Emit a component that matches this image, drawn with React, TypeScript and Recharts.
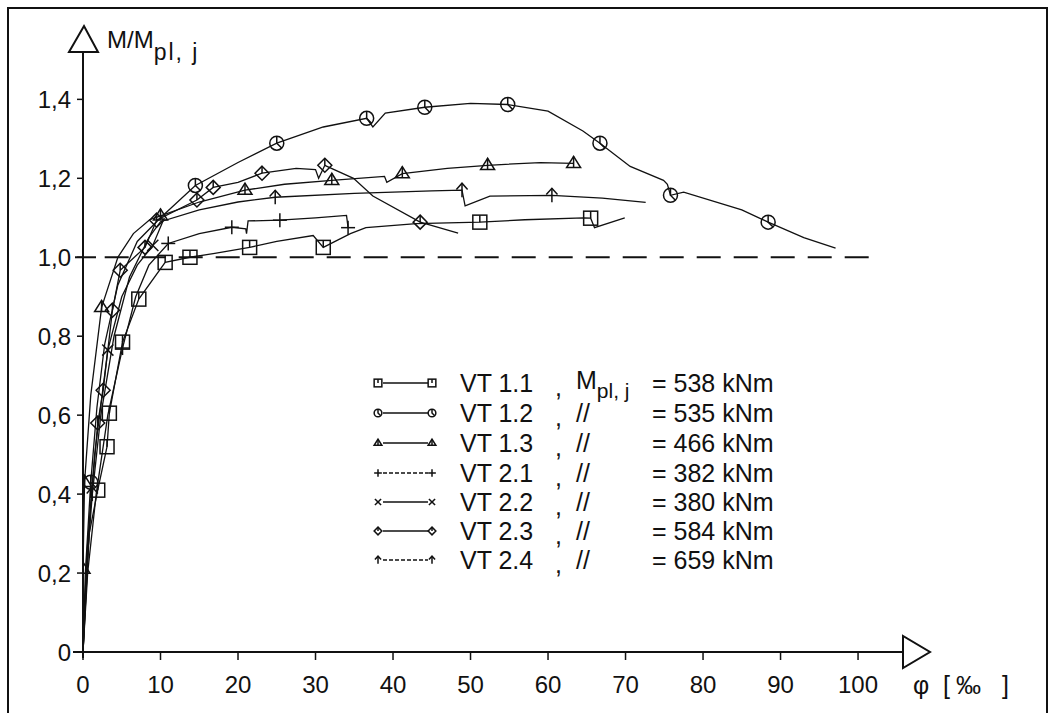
import React from "react";
import { LineChart, Line, XAxis, YAxis, ReferenceLine } from "recharts";

type Pt = { x: number; y: number; m?: boolean };

// phi [‰] vs M/Mpl,j; m = point carries a marker
const VT11: Pt[] = [
  { x: 0, y: 0 }, { x: 0.8, y: 0.3 }, { x: 1.9, y: 0.41, m: true }, { x: 3.1, y: 0.52, m: true },
  { x: 3.4, y: 0.605, m: true }, { x: 5.1, y: 0.785, m: true }, { x: 7.2, y: 0.894, m: true },
  { x: 10.6, y: 0.987, m: true }, { x: 13.8, y: 1.0, m: true }, { x: 17, y: 1.01 },
  { x: 21.5, y: 1.025, m: true }, { x: 25, y: 1.04 }, { x: 29.7, y: 1.055 },
  { x: 31, y: 1.025, m: true }, { x: 34.5, y: 1.06 }, { x: 36.5, y: 1.075 }, { x: 43, y: 1.085 },
  { x: 51.2, y: 1.089, m: true }, { x: 57, y: 1.095 }, { x: 64.6, y: 1.1 },
  { x: 65.5, y: 1.099, m: true }, { x: 66, y: 1.075 }, { x: 69.9, y: 1.1 },
];

const VT12: Pt[] = [
  { x: 0, y: 0 }, { x: 0.3, y: 0.2 }, { x: 1.0, y: 0.43, m: true }, { x: 1.8, y: 0.62 },
  { x: 2.8, y: 0.78 }, { x: 4.5, y: 0.93 }, { x: 7, y: 1.04 }, { x: 10, y: 1.1 },
  { x: 14.5, y: 1.182, m: true }, { x: 20, y: 1.24 }, { x: 25, y: 1.289, m: true },
  { x: 31, y: 1.33 }, { x: 36.6, y: 1.352, m: true }, { x: 37.4, y: 1.33 }, { x: 39, y: 1.365 },
  { x: 44.1, y: 1.38, m: true }, { x: 50, y: 1.39 }, { x: 54.8, y: 1.387, m: true },
  { x: 60, y: 1.37 }, { x: 64.5, y: 1.32 }, { x: 66.7, y: 1.289, m: true }, { x: 70.6, y: 1.23 },
  { x: 74.9, y: 1.195 }, { x: 75.4, y: 1.185 }, { x: 75.8, y: 1.157, m: true },
  { x: 77.5, y: 1.165 }, { x: 85, y: 1.12 }, { x: 88.4, y: 1.089, m: true }, { x: 93, y: 1.05 },
  { x: 97.1, y: 1.023 },
];

const VT13: Pt[] = [
  { x: 0, y: 0 }, { x: 0, y: 0.21, m: true }, { x: 0.2, y: 0.43, m: true }, { x: 1.0, y: 0.65 },
  { x: 2.4, y: 0.873, m: true }, { x: 4.5, y: 1.0 }, { x: 6.5, y: 1.06 }, { x: 8.6, y: 1.095 },
  { x: 10, y: 1.105, m: true }, { x: 15, y: 1.14 }, { x: 20.9, y: 1.17, m: true },
  { x: 26, y: 1.185 }, { x: 32.1, y: 1.195, m: true }, { x: 38.9, y: 1.205 },
  { x: 39.2, y: 1.19 }, { x: 41.2, y: 1.212, m: true }, { x: 47, y: 1.225 },
  { x: 52.2, y: 1.233, m: true }, { x: 59, y: 1.24 }, { x: 63.3, y: 1.238, m: true },
];

const VT21: Pt[] = [
  { x: 0, y: 0 }, { x: 0.6, y: 0.2 }, { x: 1.7, y: 0.4 }, { x: 3.2, y: 0.6 },
  { x: 5.1, y: 0.77, m: true }, { x: 6.8, y: 0.9 }, { x: 8.5, y: 0.98 },
  { x: 11, y: 1.035, m: true }, { x: 15, y: 1.06 }, { x: 19.2, y: 1.076, m: true },
  { x: 21, y: 1.072 }, { x: 21.1, y: 1.06 }, { x: 21.3, y: 1.092 },
  { x: 25.4, y: 1.094, m: true }, { x: 30, y: 1.1 }, { x: 34, y: 1.106 },
  { x: 34.2, y: 1.075, m: true },
];

const VT22: Pt[] = [
  { x: 0, y: 0 }, { x: 0.5, y: 0.25 }, { x: 1.5, y: 0.5 }, { x: 3.2, y: 0.765, m: true },
  { x: 5, y: 0.9 }, { x: 7, y: 0.98 }, { x: 9, y: 1.03, m: true }, { x: 10.5, y: 1.1 },
];

const VT23: Pt[] = [
  { x: 0, y: 0 }, { x: 0.9, y: 0.35 }, { x: 1.9, y: 0.58, m: true }, { x: 2.6, y: 0.663, m: true },
  { x: 3.8, y: 0.866, m: true }, { x: 4.8, y: 0.967, m: true }, { x: 8, y: 1.025, m: true },
  { x: 9.5, y: 1.094, m: true }, { x: 14.7, y: 1.145, m: true }, { x: 16.8, y: 1.177, m: true },
  { x: 20, y: 1.19 }, { x: 23.1, y: 1.213, m: true }, { x: 27.5, y: 1.225 }, { x: 30, y: 1.222 },
  { x: 30.4, y: 1.2 }, { x: 31.2, y: 1.233, m: true }, { x: 34.9, y: 1.2 }, { x: 37.4, y: 1.155 },
  { x: 43.5, y: 1.089, m: true }, { x: 48.4, y: 1.061 },
];

const VT24: Pt[] = [
  { x: 0, y: 0 }, { x: 0.5, y: 0.22 }, { x: 1.2, y: 0.4, m: true }, { x: 2.3, y: 0.6 },
  { x: 4, y: 0.8 }, { x: 6, y: 0.95 }, { x: 8.5, y: 1.05 }, { x: 10, y: 1.09 }, { x: 15, y: 1.12 },
  { x: 20, y: 1.14 }, { x: 24.8, y: 1.152, m: true }, { x: 35, y: 1.162 }, { x: 45, y: 1.168 },
  { x: 48.9, y: 1.17, m: true }, { x: 49.3, y: 1.13 }, { x: 52.5, y: 1.155 },
  { x: 60.5, y: 1.157, m: true }, { x: 67, y: 1.15 }, { x: 72.6, y: 1.139 },
];

const SERIES = [
  { name: "VT 1.1", data: VT11, kind: "square", mpl: "538", dashed: false },
  { name: "VT 1.2", data: VT12, kind: "circle", mpl: "535", dashed: false },
  { name: "VT 1.3", data: VT13, kind: "triangle", mpl: "466", dashed: false },
  { name: "VT 2.1", data: VT21, kind: "plus", mpl: "382", dashed: true },
  { name: "VT 2.2", data: VT22, kind: "cross", mpl: "380", dashed: false },
  { name: "VT 2.3", data: VT23, kind: "diamond", mpl: "584", dashed: false },
  { name: "VT 2.4", data: VT24, kind: "arrow", mpl: "659", dashed: true },
];

const X_TICKS = [0, 10, 20, 30, 40, 50, 60, 70, 80, 90, 100];
const Y_TICKS = [0, 0.2, 0.4, 0.6, 0.8, 1.0, 1.2, 1.4];

const INK = "#111";
const FONT = "'Liberation Sans','DejaVu Sans',sans-serif";

function Marker({ kind, cx, cy, s = 1 }: { kind: string; cx: number; cy: number; s?: number }) {
  const r = 7 * s;
  const p = { fill: "none", stroke: INK, strokeWidth: 1.5 };
  switch (kind) {
    case "square":
      return (
        <g {...p}>
          <rect x={cx - r} y={cy - r} width={2 * r} height={2 * r} />
          <line x1={cx} y1={cy - r} x2={cx} y2={cy} />
        </g>
      );
    case "circle":
      return (
        <g {...p}>
          <circle cx={cx} cy={cy} r={r} />
          <polyline points={`${cx},${cy - r} ${cx},${cy} ${cx + r * 0.7},${cy + r * 0.7}`} />
        </g>
      );
    case "triangle":
      return (
        <g {...p}>
          <polygon points={`${cx},${cy - r} ${cx - r},${cy + r * 0.6} ${cx + r},${cy + r * 0.6}`} />
          <line x1={cx} y1={cy - r} x2={cx} y2={cy + r * 0.6} />
        </g>
      );
    case "plus":
      return (
        <g {...p}>
          <line x1={cx - r} y1={cy} x2={cx + r} y2={cy} />
          <line x1={cx} y1={cy - r} x2={cx} y2={cy + r} />
        </g>
      );
    case "cross":
      return (
        <g {...p}>
          <line x1={cx - r * 0.8} y1={cy - r * 0.8} x2={cx + r * 0.8} y2={cy + r * 0.8} />
          <line x1={cx - r * 0.8} y1={cy + r * 0.8} x2={cx + r * 0.8} y2={cy - r * 0.8} />
        </g>
      );
    case "diamond":
      return (
        <g {...p}>
          <polygon points={`${cx},${cy - r} ${cx + r},${cy} ${cx},${cy + r} ${cx - r},${cy}`} />
          <line x1={cx} y1={cy - r} x2={cx} y2={cy} />
        </g>
      );
    default:
      return (
        <g {...p}>
          <line x1={cx} y1={cy - r} x2={cx} y2={cy + r} />
          <polyline points={`${cx - r * 0.8},${cy - r * 0.1} ${cx},${cy - r} ${cx + r * 0.8},${cy - r * 0.1}`} />
        </g>
      );
  }
}

function makeDot(kind: string) {
  return (props: any) => {
    const { cx, cy, payload, index } = props;
    if (!payload?.m || cx == null || cy == null) return <g key={`d${index}`} />;
    return (
      <g key={`d${index}`}>
        <Marker kind={kind} cx={cx} cy={cy} />
      </g>
    );
  };
}

function YTick({ x, y, payload }: any) {
  const v = payload.value as number;
  const label = v === 0 ? "0" : v.toFixed(1).replace(".", ",");
  return (
    <g>
      {Math.abs(v - 1) < 1e-6 && <line x1={x + 4} y1={y} x2={x + 25} y2={y} stroke={INK} strokeWidth={2} />}
      <text x={x} y={y} dy="0.36em" textAnchor="end" fontFamily={FONT} fontSize={24} fill={INK}>
        {label}
      </text>
    </g>
  );
}

function XTick({ x, y, payload }: any) {
  return (
    <text x={x} y={y} dy="0.72em" textAnchor="middle" fontFamily={FONT} fontSize={24} fill={INK}>
      {payload.value}
    </text>
  );
}

function YHead({ viewBox }: any) {
  const ax = viewBox.x + viewBox.width;
  const top = viewBox.y;
  const bottom = viewBox.y + viewBox.height;
  return (
    <g>
      <line x1={ax} y1={bottom} x2={ax} y2={bottom + 6} stroke={INK} strokeWidth={2} />
      <polygon points={`${ax - 14},${top} ${ax + 15},${top} ${ax + 1},${top - 26}`} fill="#fff" stroke={INK} strokeWidth={2} />
      <text x={ax + 24} y={top - 4} fontFamily={FONT} fontSize={24} fill={INK}>
        M/M
        <tspan dy={12} fontSize={23} letterSpacing={2}>pl, j</tspan>
      </text>
    </g>
  );
}

function XHead({ viewBox }: any) {
  const end = viewBox.x + viewBox.width;
  const ay = viewBox.y;
  return (
    <g>
      <line x1={viewBox.x - 10} y1={ay} x2={viewBox.x} y2={ay} stroke={INK} strokeWidth={2} />
      <polygon points={`${end},${ay - 16} ${end},${ay + 16} ${end + 27},${ay}`} fill="#fff" stroke={INK} strokeWidth={2} />
      <text y={ay + 42} fontFamily={FONT} fontSize={25} fill={INK}>
        <tspan x={end + 10}>φ</tspan>
        <tspan x={end + 40}>[</tspan>
        <tspan x={end + 53}>‰</tspan>
        <tspan x={end + 99}>]</tspan>
      </text>
    </g>
  );
}

function LegendBox() {
  const rowY = [383, 413, 443, 473, 502, 531, 560];
  return (
    <svg width={1056} height={713} style={{ position: "absolute", left: 0, top: 0, pointerEvents: "none" }}>
      {SERIES.map((s, i) => {
        const y = rowY[i];
        const t = { fontFamily: FONT, fontSize: 25, fill: INK };
        return (
          <g key={s.name}>
            <line x1={383} y1={y} x2={428} y2={y} stroke={INK} strokeWidth={1.3} strokeDasharray={s.dashed ? "4 2" : undefined} />
            <Marker kind={s.kind} cx={378} cy={y} s={0.55} />
            <Marker kind={s.kind} cx={432} cy={y} s={0.55} />
            <text x={460} y={y + 9} {...t}>{s.name}</text>
            <text x={555} y={y + 13} {...t}>,</text>
            {i === 0 ? (
              <text x={576} y={y + 6} {...t}>
                M<tspan dy={9} fontSize={21}>pl, j</tspan>
              </text>
            ) : (
              <text x={576} y={y + 9} {...t}>//</text>
            )}
            <text x={652} y={y + 9} {...t}>= {s.mpl} kNm</text>
          </g>
        );
      })}
    </svg>
  );
}

export default function App() {
  return (
    <div style={{ position: "absolute", left: 0, top: 0, width: 1056, height: 713, overflow: "hidden", background: "#fff" }}>
      <div style={{ position: "absolute", left: 7, top: 7, width: 1037, height: 730, border: "2px solid #111" }} />
      <LineChart width={1056} height={713} margin={{ top: 52, right: 153, bottom: 21, left: 23 }}>
        <XAxis
          type="number"
          dataKey="x"
          domain={[0, 105.8]}
          ticks={X_TICKS}
          allowDataOverflow
          tick={<XTick />}
          tickSize={8}
          tickMargin={16}
          height={40}
          axisLine={{ stroke: INK, strokeWidth: 2 }}
          tickLine={{ stroke: INK, strokeWidth: 1.5 }}
          label={<XHead />}
        />
        <YAxis
          type="number"
          dataKey="y"
          domain={[0, 1.52]}
          ticks={Y_TICKS}
          allowDataOverflow
          tick={<YTick />}
          tickSize={6}
          tickMargin={6}
          width={60}
          axisLine={{ stroke: INK, strokeWidth: 2 }}
          tickLine={{ stroke: INK, strokeWidth: 1.5 }}
          label={<YHead />}
        />
        <ReferenceLine
          segment={[{ x: 2.8, y: 1 }, { x: 101.5, y: 1 }]}
          stroke={INK}
          strokeWidth={2}
          strokeDasharray="24 13"
        />
        {SERIES.map((s) => (
          <Line
            key={s.name}
            data={s.data}
            dataKey="y"
            type="linear"
            stroke={INK}
            strokeWidth={1.3}
            dot={makeDot(s.kind)}
            activeDot={false}
            isAnimationActive={false}
          />
        ))}
      </LineChart>
      <LegendBox />
    </div>
  );
}
